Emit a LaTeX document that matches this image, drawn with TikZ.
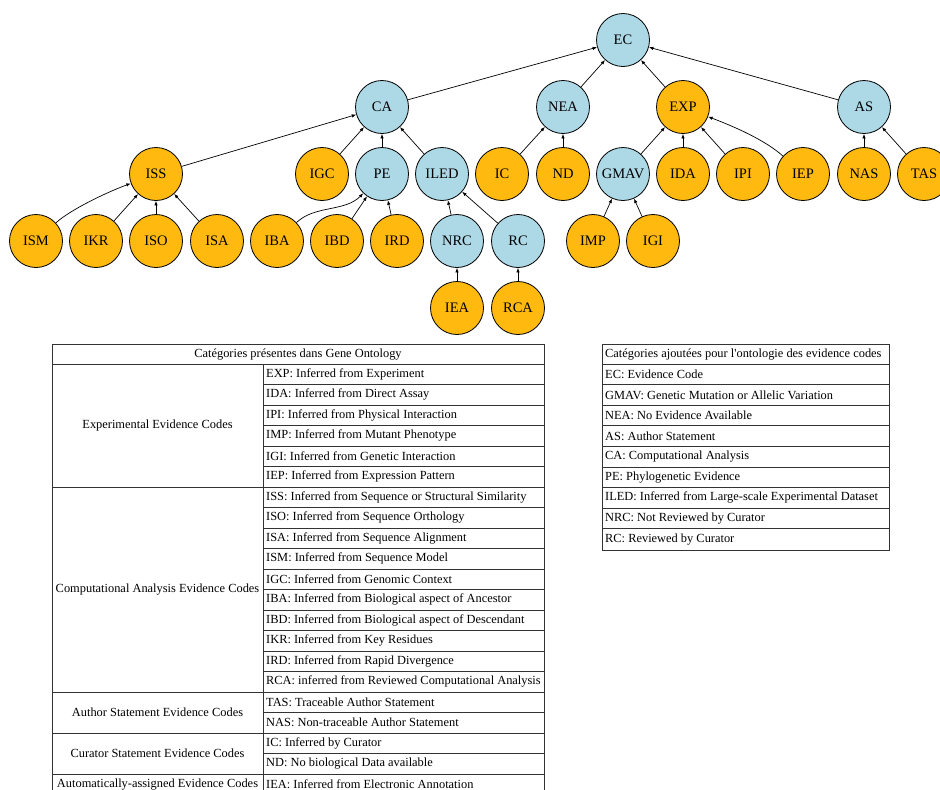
\documentclass[tikz,border=0pt]{standalone}
\usepackage{fontspec}
\setmainfont{Liberation Serif}
\usetikzlibrary{arrows.meta}
\definecolor{lblue}{HTML}{ADD8E6}
\definecolor{gold}{HTML}{FFB90F}
\definecolor{tline}{HTML}{333333}
\tikzset{
  cnode/.style={circle,draw=black,line width=0.8pt,minimum size=53pt,inner sep=0pt,font=\fontsize{14.5}{16}\selectfont},
  bnode/.style={cnode,fill=lblue},
  onode/.style={cnode,fill=gold},
  arr/.style={-{Latex[length=4.5pt,width=3.5pt]},line width=0.7pt},
  tline/.style={draw=tline,line width=0.8pt},
  ttext/.style={font=\fontsize{12.4}{14}\selectfont,inner sep=0pt},
  ltext/.style={ttext,anchor=west},
}
\begin{document}
\begin{tikzpicture}[x=1pt,y=-1pt]
\useasboundingbox (0,0) rectangle (940,790);
\clip (0,0) rectangle (940,790);
% ---------- tree ----------
\node[bnode] (EC) at (623,40) {EC};
\node[bnode] (CA) at (382,107) {CA};
\node[bnode] (NEA) at (563,107) {NEA};
\node[onode] (EXP) at (683,107) {EXP};
\node[bnode] (AS) at (864,107) {AS};
\node[onode] (ISS) at (156,174) {ISS};
\node[onode] (IGC) at (322,174) {IGC};
\node[bnode] (PE) at (382,174) {PE};
\node[bnode] (ILED) at (442,174) {ILED};
\node[onode] (IC) at (502,174) {IC};
\node[onode] (ND) at (563,174) {ND};
\node[bnode] (GMAV) at (623,174) {GMAV};
\node[onode] (IDA) at (683,174) {IDA};
\node[onode] (IPI) at (743,174) {IPI};
\node[onode] (IEP) at (803,174) {IEP};
\node[onode] (NAS) at (864,174) {NAS};
\node[onode] (TAS) at (924,174) {TAS};
\node[onode] (ISM) at (36,241) {ISM};
\node[onode] (IKR) at (96,241) {IKR};
\node[onode] (ISO) at (156,241) {ISO};
\node[onode] (ISA) at (217,241) {ISA};
\node[onode] (IBA) at (277,241) {IBA};
\node[onode] (IBD) at (337,241) {IBD};
\node[onode] (IRD) at (397,241) {IRD};
\node[bnode] (NRC) at (457,241) {NRC};
\node[bnode] (RC) at (518,241) {RC};
\node[onode] (IMP) at (593,241) {IMP};
\node[onode] (IGI) at (653,241) {IGI};
\node[onode] (IEA) at (457,308) {IEA};
\node[onode] (RCA) at (518,308) {RCA};
% edges
\foreach \c/\p in {CA/EC,NEA/EC,EXP/EC,AS/EC,ISS/CA,IGC/CA,PE/CA,ILED/CA,
  IC/NEA,ND/NEA,GMAV/EXP,IDA/EXP,IPI/EXP,NAS/AS,TAS/AS,
  IKR/ISS,ISO/ISS,ISA/ISS,IBD/PE,IRD/PE,NRC/ILED,RC/ILED,IMP/GMAV,IGI/GMAV,
  IEA/NRC,RCA/RC}
  \draw[arr] (\c) -- (\p);
\draw[arr] (ISM) .. controls (70,210) and (105,193) .. (ISS);
\draw[arr] (IBA) .. controls (315,205) and (345,212) .. (PE);
\draw[arr] (IEP) .. controls (765,140) and (735,127) .. (EXP);
% ---------- left table ----------
\def\LX{52}\def\MX{263}\def\RX{544}
\draw[tline] (\LX,344) rectangle (\RX,800);
\draw[tline] (\LX,364) -- (\RX,364);
\draw[tline] (\MX,364) -- (\MX,800);
\foreach \i in {1,...,20} {
  \draw[tline] (\MX,{364+\i*20.5}) -- (\RX,{364+\i*20.5});
}
\foreach \i in {6,16,18,20} {
  \draw[tline] (\LX,{364+\i*20.5}) -- (\MX,{364+\i*20.5});
}
\node[ttext] (lhead) at (298,354.5) {Catégories présentes dans Gene Ontology};
\foreach \t [count=\i] in {EXP: Inferred from Experiment,
  IDA: Inferred from Direct Assay,
  IPI: Inferred from Physical Interaction,
  IMP: Inferred from Mutant Phenotype,
  IGI: Inferred from Genetic Interaction,
  IEP: Inferred from Expression Pattern,
  ISS: Inferred from Sequence or Structural Similarity,
  ISO: Inferred from Sequence Orthology,
  ISA: Inferred from Sequence Alignment,
  ISM: Inferred from Sequence Model,
  IGC: Inferred from Genomic Context,
  IBA: Inferred from Biological aspect of Ancestor,
  IBD: Inferred from Biological aspect of Descendant,
  IKR: Inferred from Key Residues,
  IRD: Inferred from Rapid Divergence,
  RCA: inferred from Reviewed Computational Analysis,
  TAS: Traceable Author Statement,
  NAS: Non-traceable Author Statement,
  IC: Inferred by Curator,
  ND: No biological Data available,
  IEA: Inferred from Electronic Annotation}
  \node[ltext] (lr\i) at (266,{364+(\i-0.5)*20.5}) {\t};
\node[ttext] (g1) at (157.5,{364+3*20.5}) {Experimental Evidence Codes};
\node[ttext] (g2) at (157.5,{364+11*20.5}) {Computational Analysis Evidence Codes};
\node[ttext] (g3) at (157.5,{364+17*20.5}) {Author Statement Evidence Codes};
\node[ttext] (g4) at (157.5,{364+19*20.5}) {Curator Statement Evidence Codes};
\node[ttext] (g5) at (157.5,{364+20.5*20.5}) {Automatically-assigned Evidence Codes};
% ---------- right table ----------
\draw[tline] (602,344) rectangle (889,550);
\foreach \i in {0,...,8} {
  \draw[tline] (602,{364+\i*20.6}) -- (889,{364+\i*20.6});
}
\node[ltext] (rhead) at (605,354.5) {Catégories ajoutées pour l\textquotesingle ontologie des evidence codes};
\foreach \t [count=\i] in {EC: Evidence Code,
  GMAV: Genetic Mutation or Allelic Variation,
  NEA: No Evidence Available,
  AS: Author Statement,
  CA: Computational Analysis,
  PE: Phylogenetic Evidence,
  ILED: Inferred from Large-scale Experimental Dataset,
  NRC: Not Reviewed by Curator,
  RC: Reviewed by Curator}
  \node[ltext] (rr\i) at (605,{364+(\i-0.5)*20.6}) {\t};
\end{tikzpicture}
\end{document}
